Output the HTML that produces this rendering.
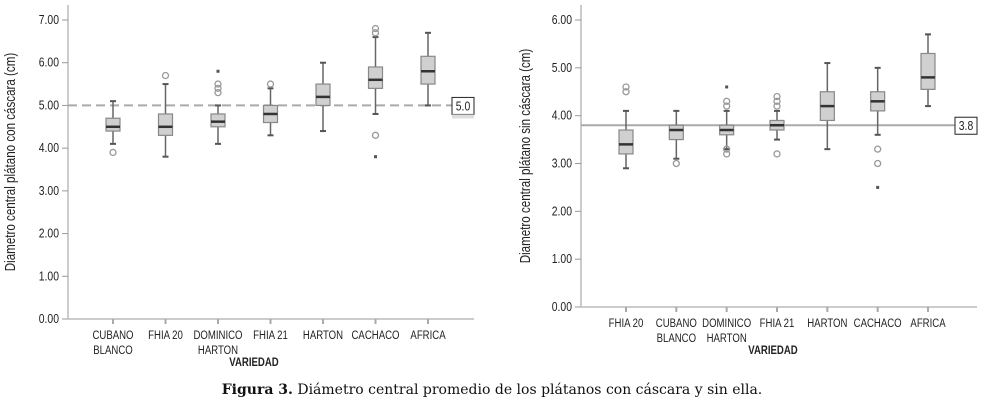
<!DOCTYPE html>
<html><head><meta charset="utf-8"><style>
html,body{margin:0;padding:0;background:#fff;width:984px;height:403px;overflow:hidden}
svg text{font-family:"Liberation Sans",sans-serif;fill:#222}
.cap{position:absolute;left:0;top:382px;width:984px;text-align:center;font-family:"DejaVu Serif","Liberation Serif",serif;font-size:14px;color:#111}
</style></head><body>
<svg id="chart" width="984" height="403" style="position:absolute;left:0;top:0"></svg>
<div class="cap"><b>Figura 3.</b> Diámetro central promedio de los plátanos con cáscara y sin ella.</div>
<script>
// Left chart data
const catsL = [["CUBANO","BLANCO"],["FHIA 20"],["DOMINICO","HARTON"],["FHIA 21"],["HARTON"],["CACHACO"],["AFRICA"]];
const wLoL = [4.1,3.8,4.1,4.3,4.4,4.8,5.0];
const q1L  = [4.4,4.3,4.5,4.6,5.0,5.4,5.5];
const medL = [4.5,4.5,4.62,4.8,5.2,5.6,5.8];
const q3L  = [4.7,4.8,4.8,5.0,5.5,5.9,6.15];
const wHiL = [5.1,5.5,5.0,5.4,6.0,6.6,6.7];
const outL = [[3.9],[5.7],[5.3,5.4,5.5],[5.5],[],[6.7,6.8,4.3],[]];
const extL = [[],[],[5.8],[],[],[3.8],[]];
const ticksL = ["0.00","1.00","2.00","3.00","4.00","5.00","6.00","7.00"];
const refL = 5.0;
// Right chart data
const catsR = [["FHIA 20"],["CUBANO","BLANCO"],["DOMINICO","HARTON"],["FHIA 21"],["HARTON"],["CACHACO"],["AFRICA"]];
const wLoR = [2.9,3.1,3.3,3.5,3.3,3.6,4.2];
const q1R  = [3.2,3.5,3.6,3.7,3.9,4.1,4.55];
const medR = [3.4,3.7,3.7,3.8,4.2,4.3,4.8];
const q3R  = [3.7,3.8,3.8,3.9,4.5,4.5,5.3];
const wHiR = [4.1,4.1,4.1,4.1,5.1,5.0,5.7];
const outR = [[4.5,4.6],[3.0],[4.2,4.3,3.2,3.3],[4.2,4.3,4.4,3.2],[],[3.3,3.0],[]];
const extR = [[],[],[4.6],[],[],[2.5],[]];
const ticksR = ["0.00","1.00","2.00","3.00","4.00","5.00","6.00"];
const refR = 3.8;

const svg = document.getElementById('chart');
const NS = "http://www.w3.org/2000/svg";
const SX = 0.8;
function mk(tag, attrs, parent, text){
  const e = document.createElementNS(NS, tag);
  for (const k in attrs) e.setAttribute(k, attrs[k]);
  if (text !== undefined) e.textContent = text;
  (parent||svg).appendChild(e); return e;
}
function ntext(x, y, anchor, size, parent, str, extra){
  const a = Object.assign({x:0,y:0,'text-anchor':anchor,'font-size':size,transform:`translate(${x} ${y}) scale(${SX} 1)`}, extra||{});
  return mk('text', a, parent, str);
}
function draw(o){
  const g = mk('g', {});
  
  
  const y = v => o.y0 - (v/o.max)*(o.y0-o.yTop);
  const x0 = o.x0, step = (o.xLast - o.xFirst)/(o.cats.length-1);
  const x = i => o.xFirst + i*step;
  const ya = mk('line',{x1:x0,y1:o.axTop,x2:x0,y2:o.y0,stroke:'#ccc','stroke-width':2},g);
   
  const xa = mk('line',{x1:x0,y1:o.y0,x2:o.xEnd,y2:o.y0,stroke:'#ccc','stroke-width':2},g);
   
  o.ticks.forEach((t,i)=>{
    const v = parseFloat(t);
    mk('line',{x1:x0-6,y1:y(v),x2:x0,y2:y(v),stroke:'#999'},g);
    const tl = ntext(x0-9, y(v)+4, 'end', 13, g, t);
     
  });
  const rl = mk('line',{x1:x0,y1:y(o.ref),x2:o.xEnd-22,y2:y(o.ref),stroke:'#aaa','stroke-width':2,'stroke-dasharray':o.dash},g);
   
  const bx = o.xEnd-22;
  mk('rect',{x:bx,y:y(o.ref)-8,width:22,height:17,fill:'#fff',stroke:'#222'},g);
  const rt = ntext(bx+11, y(o.ref)+5, 'middle', 13, g, o.ref.toFixed(1));
   
  if (o.shadow) mk('rect',{x:bx,y:y(o.ref)+9,width:22,height:4,fill:'#ddd'},g);
  o.cats.forEach((c,i)=>{
    const cx = x(i), hw = 7;
    mk('line',{x1:cx,y1:o.y0,x2:cx,y2:o.y0+5,stroke:'#aaa','stroke-width':2},g);
    const bg = mk('g',{},g);
    
    
    mk('line',{x1:cx,y1:y(o.wLo[i]),x2:cx,y2:y(o.wHi[i]),stroke:'#666','stroke-width':1.5},bg);
    mk('line',{x1:cx-3,y1:y(o.wLo[i]),x2:cx+3,y2:y(o.wLo[i]),stroke:'#555','stroke-width':2},bg);
    mk('line',{x1:cx-3,y1:y(o.wHi[i]),x2:cx+3,y2:y(o.wHi[i]),stroke:'#555','stroke-width':2},bg);
    mk('rect',{x:cx-hw,y:y(o.q3[i]),width:2*hw,height:y(o.q1[i])-y(o.q3[i]),fill:'#d0d0d0',stroke:'#888','stroke-width':1.2},bg);
    mk('line',{x1:cx-hw,y1:y(o.med[i]),x2:cx+hw,y2:y(o.med[i]),stroke:'#333','stroke-width':2.5},bg);
    o.out[i].forEach(v=>mk('circle',{cx:cx,cy:y(v),r:3,fill:'none',stroke:'#999','stroke-width':1.3},bg));
    o.ext[i].forEach(v=>mk('rect',{x:cx-1.5,y:y(v)-1.5,width:3,height:3,fill:'#555'},bg));
    c.forEach((line,k)=>{
      const cl = ntext(cx, o.y0+20+k*15, 'middle', 12, g, line);
       
    });
  });
  const xt = ntext(o.xTitle, o.y0+47, 'middle', 12, g, 'VARIEDAD', {'font-weight':'bold'});
   
  const cy = (o.axTop+o.y0)/2;
  const yt = mk('text',{x:0,y:0,'text-anchor':'middle','font-size':14.5,transform:`translate(${o.yTitleX} ${cy}) rotate(-90) scale(${SX} 1)`},g,o.ytitle);
   
}
draw({name:'left-chart',cats:catsL,wLo:wLoL,q1:q1L,med:medL,q3:q3L,wHi:wHiL,out:outL,ext:extL,ticks:ticksL,ref:refL,
  max:7,y0:319,yTop:20,axTop:5,x0:68,xEnd:474,xFirst:113,xLast:428,dash:'9 5',shadow:true,xTitle:254,yTitleX:15,
  ytitle:'Diametro central plátano con cáscara (cm)'});
draw({name:'right-chart',cats:catsR,wLo:wLoR,q1:q1R,med:medR,q3:q3R,wHi:wHiR,out:outR,ext:extR,ticks:ticksR,ref:refR,
  max:6,y0:307,yTop:20,axTop:5,x0:581,xEnd:977,xFirst:626,xLast:928,dash:'none',shadow:false,xTitle:773,yTitleX:530,
  ytitle:'Diametro central plátano sin cáscara (cm)'});
</script>
</body></html>
